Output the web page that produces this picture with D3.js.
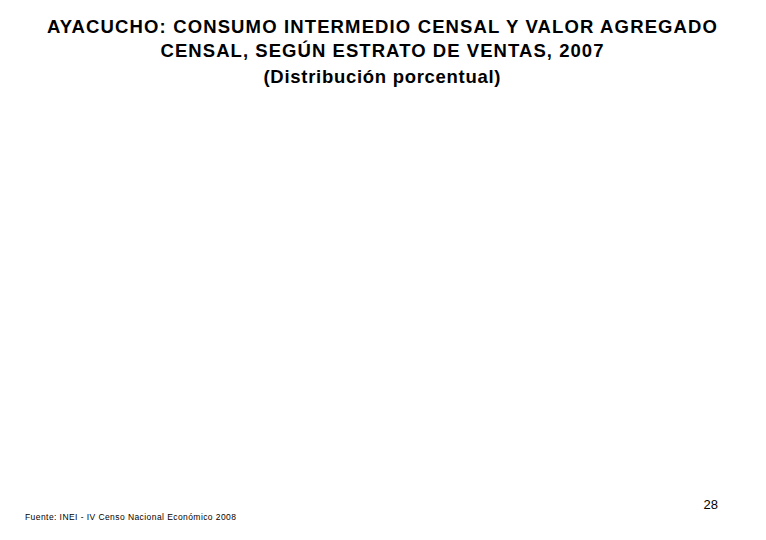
<!DOCTYPE html>
<html>
<head>
<meta charset="utf-8">
<script src="https://cdn.jsdelivr.net/npm/d3@7"></script>
<style>
  html, body { margin: 0; padding: 0; background: #fff; }
  svg { display: block; }
</style>
</head>
<body>
<script>
// Chart text and (empty) data as shown in the reference
const titleLines = [
  "AYACUCHO: CONSUMO INTERMEDIO CENSAL Y VALOR AGREGADO",
  "CENSAL, SEGÚN ESTRATO DE VENTAS, 2007",
  "(Distribución porcentual)"
];
const titleBaselines = [33, 57, 83];
const titleWidths = [670, 443, 237];
const categories = [];
const seriesValues = [];
const sourceText = "Fuente: INEI - IV Censo Nacional Económico 2008";
const pageNumber = "28";

const W = 766, H = 540;
const svg = d3.select("body").append("svg")
  .attr("width", W).attr("height", H);

svg.append("rect").attr("width", W).attr("height", H).attr("fill", "#fff");

svg.append("g").selectAll("text")
  .data(titleLines)
  .join("text")
  .attr("x", 382)
  .attr("y", (d, i) => titleBaselines[i])
  .attr("text-anchor", "middle")
  .attr("font-family", "Liberation Sans, Arial, sans-serif")
  .attr("font-weight", "bold")
  .attr("font-size", 18.5)
  .attr("textLength", (d, i) => titleWidths[i])
  .attr("lengthAdjust", "spacing")
  .attr("fill", "#000")
  .text(d => d);

// empty plot area (no marks in the reference)
const x = d3.scaleBand().domain(categories).range([60, 700]);
const y = d3.scaleLinear().domain([0, 100]).range([470, 110]);
svg.append("g").selectAll("rect")
  .data(seriesValues)
  .join("rect")
  .attr("x", (d, i) => x(categories[i]))
  .attr("y", d => y(d))
  .attr("width", x.bandwidth())
  .attr("height", d => y(0) - y(d));

svg.append("text")
  .attr("x", 718)
  .attr("y", 509)
  .attr("text-anchor", "end")
  .attr("font-family", "Liberation Sans, Arial, sans-serif")
  .attr("font-size", 13)
  .attr("fill", "#000")
  .text(pageNumber);

svg.append("text")
  .attr("x", 25)
  .attr("y", 520)
  .attr("font-family", "Liberation Sans, Arial, sans-serif")
  .attr("font-size", 8.5)
  .attr("textLength", 211)
  .attr("lengthAdjust", "spacing")
  .attr("fill", "#000")
  .text(sourceText);
</script>
</body>
</html>
